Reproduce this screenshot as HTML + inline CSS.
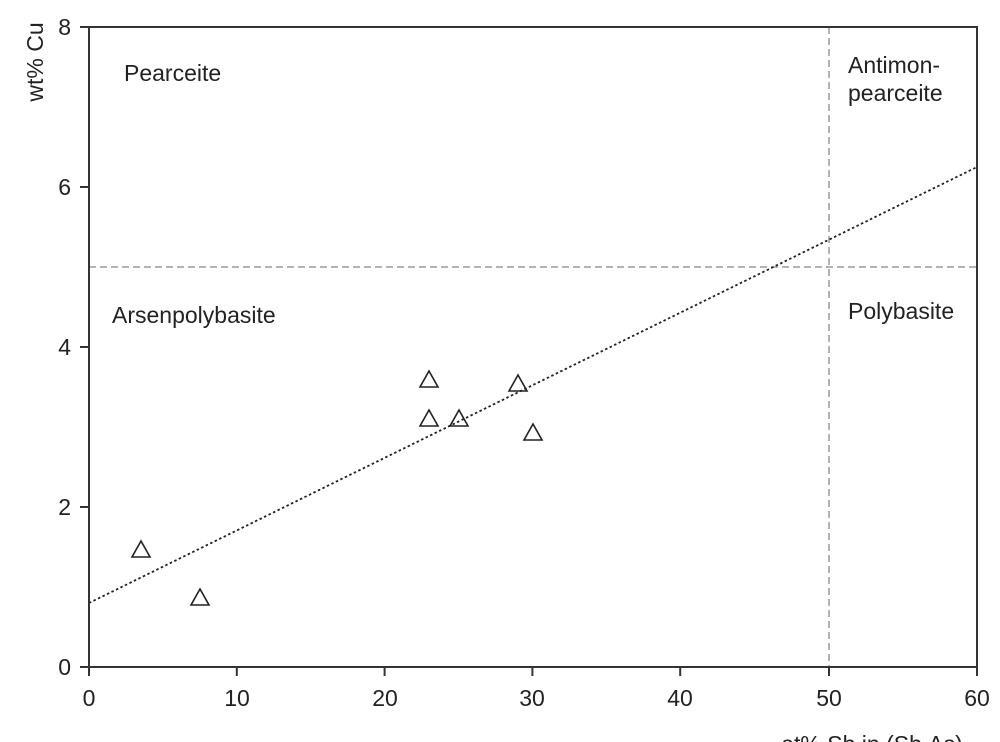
<!DOCTYPE html>
<html><head><meta charset="utf-8"><style>
html,body{margin:0;padding:0;background:#fff;}
svg{display:block;font-family:"Liberation Sans",Arial,sans-serif;}
</style></head><body>
<svg width="1000" height="742" viewBox="0 0 1000 742">
<g stroke="#888" stroke-width="1.3" stroke-dasharray="7,4" fill="none">
<line x1="829" y1="27" x2="829" y2="667"/>
<line x1="89" y1="267" x2="977" y2="267"/>
</g>
<line x1="89" y1="603" x2="977" y2="167" stroke="#222" stroke-width="1.8" stroke-dasharray="2.5,2.5"/>
<g stroke="#333" stroke-width="2" fill="none">
<rect x="89" y="27" width="888" height="640"/>
<line x1="80" y1="27" x2="89" y2="27"/>
<line x1="80" y1="187" x2="89" y2="187"/>
<line x1="80" y1="347" x2="89" y2="347"/>
<line x1="80" y1="507" x2="89" y2="507"/>
<line x1="80" y1="667" x2="89" y2="667"/>
<line x1="89" y1="667" x2="89" y2="676"/>
<line x1="236.8" y1="667" x2="236.8" y2="676"/>
<line x1="384.6" y1="667" x2="384.6" y2="676"/>
<line x1="532.4" y1="667" x2="532.4" y2="676"/>
<line x1="680.2" y1="667" x2="680.2" y2="676"/>
<line x1="829" y1="667" x2="829" y2="676"/>
<line x1="977" y1="667" x2="977" y2="676"/>
</g>
<g font-size="23" fill="#222" text-anchor="end">
<text x="71" y="35">8</text><text x="71" y="195">6</text><text x="71" y="355">4</text><text x="71" y="515">2</text><text x="71" y="675">0</text>
</g>
<g font-size="23" fill="#222" text-anchor="middle">
<text x="89" y="706">0</text><text x="237" y="706">10</text><text x="385" y="706">20</text><text x="532" y="706">30</text><text x="680" y="706">40</text><text x="829" y="706">50</text><text x="977" y="706">60</text>
<text x="872" y="752">at% Sb in (Sb,As)</text>
<text transform="translate(43,62) rotate(-90)">wt% Cu</text>
</g>
<g font-size="23" fill="#222">
<text x="124" y="81">Pearceite</text>
<text x="112" y="323">Arsenpolybasite</text>
<text x="848" y="73">Antimon-</text>
<text x="848" y="101">pearceite</text>
<text x="848" y="319">Polybasite</text>
</g>
<g stroke="#222" stroke-width="1.6" fill="none">
<path d="M141,541 l-9,16 h18 z"/>
<path d="M200,589 l-9,16 h18 z"/>
<path d="M429,371 l-9,16 h18 z"/>
<path d="M429,410 l-9,16 h18 z"/>
<path d="M459,410 l-9,16 h18 z"/>
<path d="M518,375 l-9,16 h18 z"/>
<path d="M533,424 l-9,16 h18 z"/>
</g>
</svg>
</body></html>
